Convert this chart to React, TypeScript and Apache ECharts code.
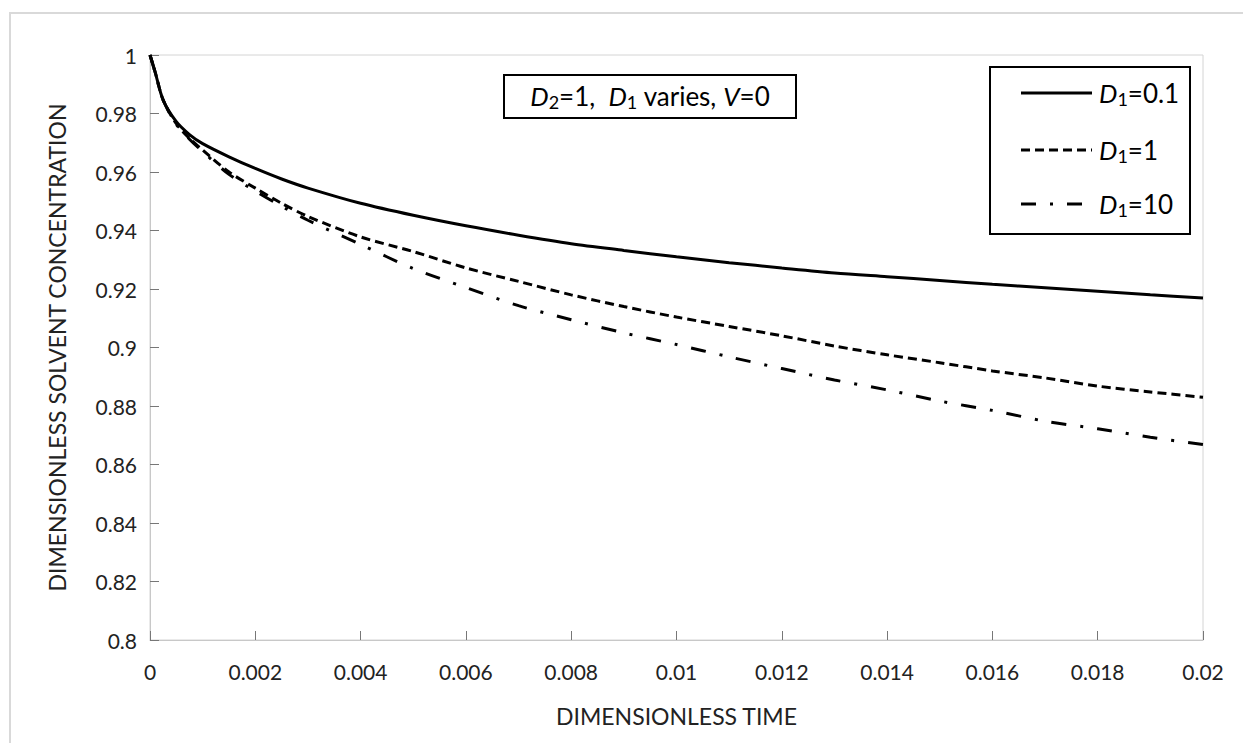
import React, { useEffect, useRef } from "react";
import * as echarts from "echarts";

// Dimensionless time samples (x axis)
const timeValues = [
  0, 0.0001, 0.00025, 0.0005, 0.00075, 0.001, 0.0015, 0.002, 0.0025, 0.003,
  0.004, 0.005, 0.006, 0.007, 0.008, 0.009, 0.01, 0.011, 0.012, 0.013, 0.014,
  0.015, 0.016, 0.017, 0.018, 0.019, 0.02,
];

// Dimensionless solvent concentration for each D1
const concD1Low = [
  1.0, 0.994, 0.9846, 0.9772, 0.9728, 0.9697, 0.9652, 0.9612, 0.9576, 0.9545,
  0.9493, 0.9452, 0.9416, 0.9384, 0.9355, 0.9332, 0.931, 0.929, 0.9272, 0.9255,
  0.9242, 0.9229, 0.9216, 0.9204, 0.9192, 0.918, 0.9169,
];
const concD1Mid = [
  1.0, 0.994, 0.9846, 0.9765, 0.9715, 0.9675, 0.96, 0.9545, 0.9493, 0.9448,
  0.9378, 0.9328, 0.9272, 0.9226, 0.918, 0.914, 0.9104, 0.9072, 0.904, 0.9005,
  0.8975, 0.8948, 0.892, 0.8896, 0.8868, 0.8848, 0.883,
];
const concD1High = [
  1.0, 0.994, 0.9846, 0.9763, 0.9712, 0.967, 0.9592, 0.9535, 0.9483, 0.9435,
  0.9352, 0.927, 0.9205, 0.9143, 0.9095, 0.905, 0.901, 0.8968, 0.8928, 0.8889,
  0.8855, 0.8817, 0.8785, 0.8748, 0.8722, 0.8693, 0.8668,
];

// Legend labels (D1 values) and their line dash patterns
const legendValues = ["0.1", "1", "10"];
const dashPatterns: (number[] | null)[] = [null, [9, 5], [15, 14, 3, 14]];

const xAxisTitle = "DIMENSIONLESS TIME";
const yAxisTitle = "DIMENSIONLESS SOLVENT CONCENTRATION";

const FONT = "Lato, 'Liberation Sans', sans-serif";

const richStyles = {
  i: { fontStyle: "italic", fontSize: 26, fontFamily: FONT, fill: "#000", lineHeight: 30 },
  s: { fontSize: 18, fontFamily: FONT, fill: "#000", verticalAlign: "bottom", lineHeight: 20 },
  n: { fontSize: 26, fontFamily: FONT, fill: "#000", lineHeight: 30 },
};

export default function App() {
  const ref = useRef<HTMLDivElement>(null);

  useEffect(() => {
    document.body.style.margin = "0";
    if (!ref.current) return;
    const chart = echarts.init(ref.current, null, { renderer: "svg" });

    const allSeries = [concD1Low, concD1Mid, concD1High];

    const series = allSeries.map((vals, idx) => ({
      type: "line",
      name: "D1=" + legendValues[idx],
      data: timeValues.map((t, k) => [t, vals[k]]),
      showSymbol: false,
      smooth: 0.3,
      lineStyle: {
        color: "#000",
        width: 3,
        type: dashPatterns[idx] ? dashPatterns[idx] : "solid",
      },
    }));

    const legendTop = 67;
    const legendRows = [93, 150, 204];
    const legendGraphics: any[] = [
      {
        type: "rect",
        shape: { x: 990, y: legendTop, width: 200, height: 167 },
        style: { fill: "#fff", stroke: "#000", lineWidth: 2 },
        z: 10,
      },
    ];
    legendValues.forEach((v, idx) => {
      legendGraphics.push({
        type: "line",
        shape: { x1: 1021, y1: legendRows[idx], x2: 1092, y2: legendRows[idx] },
        style: {
          stroke: "#000",
          lineWidth: 3,
          lineDash: dashPatterns[idx] ? dashPatterns[idx] : null,
        },
        z: 11,
      });
      legendGraphics.push({
        type: "text",
        x: 1099,
        y: legendRows[idx],
        style: {
          text: "{i|D}{s|1}{n|=" + v + "}",
          rich: richStyles,
          verticalAlign: "middle",
          align: "left",
        },
        z: 11,
      });
    });

    chart.setOption({
      animation: false,
      backgroundColor: "#fff",
      grid: {
        left: 150,
        right: 40,
        top: 55,
        bottom: 103,
        show: true,
        borderColor: "#d4d4d4",
        borderWidth: 1,
      },
      xAxis: {
        type: "value",
        min: 0,
        max: 0.02,
        interval: 0.002,
        name: xAxisTitle,
        nameLocation: "middle",
        nameGap: 64,
        nameTextStyle: { fontSize: 23, fontFamily: FONT, color: "#222" },
        axisLine: { lineStyle: { color: "#c8c8c8", width: 1 } },
        axisTick: { inside: true, length: 9, lineStyle: { color: "#777" } },
        axisLabel: { fontSize: 21, fontFamily: FONT, color: "#222", margin: 21 },
        splitLine: { show: false },
      },
      yAxis: {
        type: "value",
        min: 0.8,
        max: 1,
        interval: 0.02,
        name: yAxisTitle,
        nameLocation: "middle",
        nameGap: 82,
        nameTextStyle: { fontSize: 23, fontFamily: FONT, color: "#222" },
        axisLine: { show: true, lineStyle: { color: "#c8c8c8", width: 1 } },
        axisTick: { show: true, inside: true, length: 9, lineStyle: { color: "#777" } },
        axisLabel: { fontSize: 21, fontFamily: FONT, color: "#222", margin: 13 },
        splitLine: { show: false },
      },
      series,
      graphic: [
        // outer chart frame
        {
          type: "rect",
          shape: { x: 10, y: 13, width: 1400, height: 900 },
          style: { fill: "none", stroke: "#d9d9d9", lineWidth: 2 },
          silent: true,
        },
        // parameter annotation
        {
          type: "rect",
          shape: { x: 504, y: 75, width: 292, height: 43 },
          style: { fill: "#fff", stroke: "#000", lineWidth: 2 },
          z: 10,
        },
        {
          type: "text",
          x: 650,
          y: 96,
          style: {
            text: "{i|D}{s|2}{n|=1,  }{i|D}{s|1}{n| varies, }{i|V}{n|=0}",
            rich: richStyles,
            align: "center",
            verticalAlign: "middle",
          },
          z: 11,
        },
        ...legendGraphics,
      ],
    });

    return () => chart.dispose();
  }, []);

  return <div ref={ref} style={{ width: 1243, height: 743 }} />;
}
